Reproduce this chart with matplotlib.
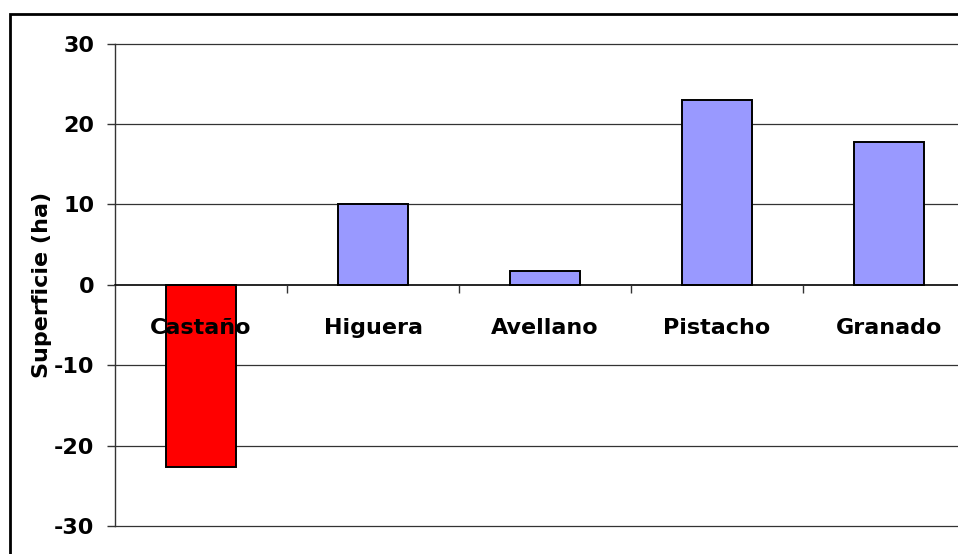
import matplotlib.pyplot as plt
from matplotlib.patches import Rectangle
from matplotlib.ticker import FixedLocator
import numpy as np

cultivos = ['Castaño', 'Higuera', 'Avellano', 'Pistacho', 'Granado']
superficie = [-22.7, 10.0, 1.7, 23.0, 17.8]
colores = ['#FF0000', '#9999FF', '#9999FF', '#9999FF', '#9999FF']
yticks = [-30, -20, -10, 0, 10, 20, 30]

W, H = 958, 554
fig = plt.figure(figsize=(W / 100, H / 100), dpi=100)
fig.patch.set_facecolor('white')

# outer chart frame (runs off the right and bottom edges like the original)
fig.patches.append(Rectangle((10 / W, -0.2), 1.2, 1.2 - 14 / H,
                             transform=fig.transFigure, fill=False,
                             edgecolor='black', linewidth=2, zorder=0))

left, right, top, bottom = 115, 975, 43.5, 526
ax = fig.add_axes([left / W, 1 - bottom / H, (right - left) / W, (bottom - top) / H])

x = np.arange(len(cultivos))

# gridlines drawn by hand so they sit under the bars while tick labels sit on top
for yv in yticks:
    if yv != 0:
        ax.axhline(yv, color='#333333', linewidth=0.9, zorder=1, clip_on=False)

ax.bar(x, superficie, width=0.41, color=colores, edgecolor='black',
       linewidth=1.4, zorder=2)

ax.set_xlim(-0.5, len(cultivos) - 0.5)
ax.set_ylim(-30, 30)
ax.set_axisbelow(False)

for s in ['top', 'right']:
    ax.spines[s].set_visible(False)
ax.spines['left'].set_color('#333333')
ax.spines['left'].set_linewidth(1.0)
ax.spines['bottom'].set_position(('data', 0))
ax.spines['bottom'].set_color('black')
ax.spines['bottom'].set_linewidth(1.2)

font = dict(family='DejaVu Sans', weight='bold', size=16)

ax.set_xticks(x)
ax.set_xticklabels(cultivos, **font)
ax.xaxis.set_minor_locator(FixedLocator(np.arange(0.5, len(cultivos) - 0.5, 1)))
ax.tick_params(axis='x', which='major', length=0, pad=24)
ax.tick_params(axis='x', which='minor', length=6, width=1, color='#333333', direction='out')

ax.set_yticks(yticks)
ax.set_yticklabels([str(v) for v in yticks], **font)
ax.tick_params(axis='y', length=6, width=1, color='#333333', pad=9)

ax.set_ylabel('Superficie (ha)', labelpad=1, **font)

fig.savefig('out.png', dpi=100, facecolor='white')
